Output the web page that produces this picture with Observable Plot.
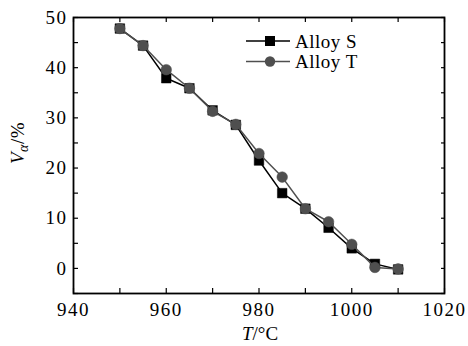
<!DOCTYPE html>
<html>
<head>
<meta charset="utf-8">
<script src="https://cdn.jsdelivr.net/npm/d3@7"></script>
<script src="https://cdn.jsdelivr.net/npm/@observablehq/plot@0.6"></script>
<style>
  html, body { margin: 0; padding: 0; background: #fff; }
  #chart { width: 468px; height: 346px; }
  #chart svg, #chart svg text { font-family: "Liberation Serif", "Times New Roman", serif !important; }
</style>
</head>
<body>
<div id="chart"></div>
<script>
const temps  = [950, 955, 960, 965, 970, 975, 980, 985, 990, 995, 1000, 1005, 1010];
const alloyS = [47.8, 44.4, 37.9, 35.9, 31.5, 28.6, 21.5, 15.0, 11.9, 8.1, 4.0, 0.9, -0.2];
const alloyT = [47.8, 44.4, 39.6, 35.9, 31.3, 28.7, 22.9, 18.2, 11.9, 9.3, 4.8, 0.2, -0.1];
const seriesNames = ["Alloy S", "Alloy T"];
const xTickLabels = [940, 960, 980, 1000, 1020];
const xMinorTicks = [940, 950, 960, 970, 980, 990, 1000, 1010, 1020];
const yTickLabels = [0, 10, 20, 30, 40, 50];
const yMinorTicks = [-5, 0, 5, 10, 15, 20, 25, 30, 35, 40, 45, 50];

const dataS = temps.map((t, i) => ({t, v: alloyS[i], s: seriesNames[0]}));
const dataT = temps.map((t, i) => ({t, v: alloyT[i], s: seriesNames[1]}));

const colS = "#000000";
const colT = "#4f4f4f";
const font = "Liberation Serif, serif";

const plot = Plot.plot({
  width: 468,
  height: 346,
  marginLeft: 73,
  marginRight: 24,
  marginTop: 17,
  marginBottom: 53,
  x: {domain: [940, 1020]},
  y: {domain: [-5, 50]},
  style: {fontFamily: font, fontSize: "19px", background: "#fff", color: "#000", overflow: "visible"},
  marks: [
    Plot.axisX({anchor: "bottom", ticks: xMinorTicks, tickSize: -5, text: null, label: null, strokeWidth: 1.2}),
    Plot.axisX({anchor: "top", ticks: xMinorTicks, tickSize: -4, text: null, label: null, strokeWidth: 1.2}),
    Plot.axisY({anchor: "left", ticks: yMinorTicks, tickSize: -5, text: null, label: null, strokeWidth: 1.2}),
    Plot.axisY({anchor: "right", ticks: yMinorTicks, tickSize: -4, text: null, label: null, strokeWidth: 1.2}),
    Plot.axisX({anchor: "bottom", ticks: xTickLabels, tickSize: 0, tickPadding: 9, label: null,
      tickFormat: d => String(d), fontSize: 19}),
    Plot.axisY({anchor: "left", ticks: yTickLabels, tickSize: 0, tickPadding: 6, label: null,
      tickFormat: d => String(d), fontSize: 19}),
    Plot.frame({stroke: "#000", strokeWidth: 1.8}),
    Plot.line(dataS, {x: "t", y: "v", stroke: colS, strokeWidth: 1.5}),
    Plot.dot(dataS, {x: "t", y: "v", symbol: "square", r: 5.4, fill: colS, stroke: colS, strokeWidth: 0.5}),
    Plot.line(dataT, {x: "t", y: "v", stroke: colT, strokeWidth: 1.5}),
    Plot.dot(dataT, {x: "t", y: "v", symbol: "circle", r: 5.3, fill: colT, stroke: colT, strokeWidth: 0.5})
  ]
});

document.getElementById("chart").appendChild(plot);

const svg = d3.select(plot);
svg.selectAll("g[aria-label='x-axis tick label'] text, g[aria-label='y-axis tick label'] text")
  .style("letter-spacing", "1.5px");

// x-axis title: T/°C
const xl = svg.append("text")
  .attr("x", 260).attr("y", 340)
  .attr("text-anchor", "middle")
  .style("font-size", "19px").attr("fill", "#000");
xl.append("tspan").style("font-style", "italic").text("T");
xl.append("tspan").text("/°C");

// y-axis title: V_α/%
const yl = svg.append("text")
  .attr("transform", "translate(24,143) rotate(-90)")
  .attr("text-anchor", "middle")
  .style("font-size", "19px").style("letter-spacing", "0.5px").attr("fill", "#000");
yl.append("tspan").style("font-style", "italic").text("V");
yl.append("tspan").style("font-style", "italic").style("font-size", "14px").attr("dy", 4).text("α");
yl.append("tspan").attr("dy", -4).text("/%");

// legend
const legend = svg.append("g").style("font-size", "19px");
const items = [
  {name: seriesNames[0], color: colS, sym: "square", y: 41},
  {name: seriesNames[1], color: colT, sym: "circle", y: 61.5}
];
items.forEach(it => {
  legend.append("line").attr("x1", 246).attr("x2", 290).attr("y1", it.y).attr("y2", it.y)
    .attr("stroke", it.color).attr("stroke-width", 1.5);
  if (it.sym === "square") {
    legend.append("rect").attr("x", 265).attr("y", it.y - 5).attr("width", 10).attr("height", 10).attr("fill", it.color);
  } else {
    legend.append("circle").attr("cx", 270).attr("cy", it.y).attr("r", 5.2).attr("fill", it.color);
  }
  legend.append("text").attr("x", 295).attr("y", it.y + 6.5).attr("fill", "#000")
    .attr("text-anchor", "start")
    .style("letter-spacing", "0.5px").text(it.name);
});
</script>
</body>
</html>
